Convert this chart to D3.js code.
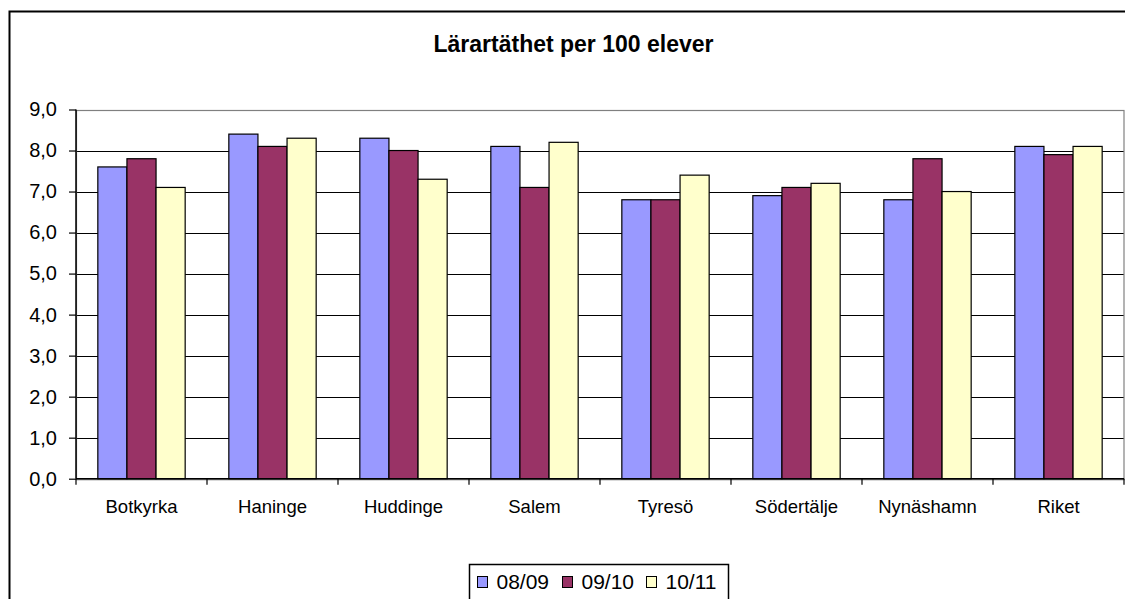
<!DOCTYPE html>
<html>
<head>
<meta charset="utf-8">
<script src="https://cdn.jsdelivr.net/npm/d3@7"></script>
<style>
  body { margin: 0; background: #fff; overflow: hidden; }
  svg { display: block; font-family: "Liberation Sans", Arial, sans-serif; }
</style>
</head>
<body>
<div id="chart"></div>
<script>
const categories = ["Botkyrka", "Haninge", "Huddinge", "Salem", "Tyresö", "Södertälje", "Nynäshamn", "Riket"];
const seriesNames = ["08/09", "09/10", "10/11"];
const values0809 = [7.6, 8.4, 8.3, 8.1, 6.8, 6.9, 6.8, 8.1];
const values0910 = [7.8, 8.1, 8.0, 7.1, 6.8, 7.1, 7.8, 7.9];
const values1011 = [7.1, 8.3, 7.3, 8.2, 7.4, 7.2, 7.0, 8.1];
const yTicks = [0, 1, 2, 3, 4, 5, 6, 7, 8, 9];
const colors = ["#9999FF", "#993366", "#FFFFCC"];

const width = 1125;
const height = 599;
const plot = { left: 76, right: 1124, top: 109.5, bottom: 478.7 };

const svg = d3.select("#chart")
  .append("svg")
  .attr("width", width)
  .attr("height", height);

// outer chart border (runs off the right and bottom edge)
svg.append("rect")
  .attr("x", 9.5).attr("y", 11.5)
  .attr("width", 1300).attr("height", 700)
  .attr("fill", "none")
  .attr("stroke", "#000")
  .attr("stroke-width", 2);

svg.append("text")
  .attr("x", 573.5).attr("y", 52)
  .attr("text-anchor", "middle")
  .attr("font-size", 23)
  .attr("font-weight", "bold")
  .text("Lärartäthet per 100 elever");

// scales
const x0 = d3.scaleBand()
  .domain(categories)
  .range([plot.left, plot.right])
  .padding(0);

const x1 = d3.scaleBand()
  .domain(seriesNames)
  .range([0, x0.bandwidth()])
  .paddingInner(0)
  .paddingOuter(0.75);

const y = d3.scaleLinear()
  .domain([0, 9])
  .range([plot.bottom, plot.top]);

const fmt = (d) => d3.format(".1f")(d).replace(".", ",");

// gridlines
svg.append("g")
  .selectAll("line")
  .data(yTicks.slice(1, -1))
  .join("line")
  .attr("x1", plot.left).attr("x2", plot.right)
  .attr("y1", (d) => Math.round(y(d)) + 0.5)
  .attr("y2", (d) => Math.round(y(d)) + 0.5)
  .attr("stroke", "#000")
  .attr("stroke-width", 1);

// plot area border
svg.append("rect")
  .attr("x", plot.left + 0.5)
  .attr("y", Math.round(plot.top) + 0.5)
  .attr("width", plot.right - plot.left - 0.5)
  .attr("height", plot.bottom - plot.top)
  .attr("fill", "none")
  .attr("stroke", "#808080")
  .attr("stroke-width", 1.2);

// bars
const rows = categories.map((c, i) => ({
  cat: c,
  vals: [values0809[i], values0910[i], values1011[i]]
}));

const groups = svg.append("g")
  .selectAll("g")
  .data(rows)
  .join("g")
  .attr("transform", (d) => `translate(${x0(d.cat)},0)`);

groups.selectAll("rect")
  .data((d) => d.vals.map((v, j) => ({ s: seriesNames[j], v, j })))
  .join("rect")
  .attr("x", (d) => x1(d.s))
  .attr("y", (d) => y(d.v))
  .attr("width", x1.bandwidth())
  .attr("height", (d) => y(0) - y(d.v))
  .attr("fill", (d) => colors[d.j])
  .attr("stroke", "#000")
  .attr("stroke-width", 1.2);

// y axis
const yAxis = svg.append("g")
  .attr("transform", `translate(${plot.left},0)`)
  .call(d3.axisLeft(y).tickValues(yTicks).tickFormat(fmt).tickSize(7).tickPadding(12));
yAxis.selectAll("text").attr("font-size", 20).attr("fill", "#000").attr("font-family", "Liberation Sans, Arial, sans-serif");
yAxis.selectAll("line").attr("stroke", "#000").attr("stroke-width", 1.2);
yAxis.select(".domain").attr("stroke", "#000").attr("stroke-width", 1.5).attr("d", `M0,${plot.top}V${plot.bottom}`);

// x axis with ticks at category boundaries
const xAxis = svg.append("g")
  .attr("transform", `translate(0,${plot.bottom})`)
  .call(d3.axisBottom(x0).tickSize(0).tickPadding(21));
xAxis.selectAll("text").attr("font-size", 18.5).attr("fill", "#000").attr("font-family", "Liberation Sans, Arial, sans-serif");
xAxis.select(".domain").attr("stroke", "#000").attr("stroke-width", 1.5).attr("d", `M${plot.left},0H${plot.right}`);
xAxis.append("g")
  .selectAll("line")
  .data(categories.map((c) => x0(c)).concat([plot.right]))
  .join("line")
  .attr("x1", (d) => d).attr("x2", (d) => d)
  .attr("y1", 0).attr("y2", 6)
  .attr("stroke", "#000")
  .attr("stroke-width", 1.2);

// legend
const legend = svg.append("g").attr("transform", "translate(469.5,564.5)");
legend.append("rect")
  .attr("width", 259).attr("height", 50)
  .attr("fill", "#fff")
  .attr("stroke", "#000")
  .attr("stroke-width", 1.5);

const legendX = [8, 93, 177];
const items = legend.selectAll("g.item")
  .data(seriesNames)
  .join("g")
  .attr("class", "item")
  .attr("transform", (d, i) => `translate(${legendX[i]},0)`);
items.append("rect")
  .attr("x", 0).attr("y", 12)
  .attr("width", 10).attr("height", 11)
  .attr("fill", (d, i) => colors[i])
  .attr("stroke", "#000")
  .attr("stroke-width", 1);
items.append("text")
  .attr("x", 19).attr("y", 24)
  .attr("font-size", 21)
  .text((d) => d);
</script>
</body>
</html>
